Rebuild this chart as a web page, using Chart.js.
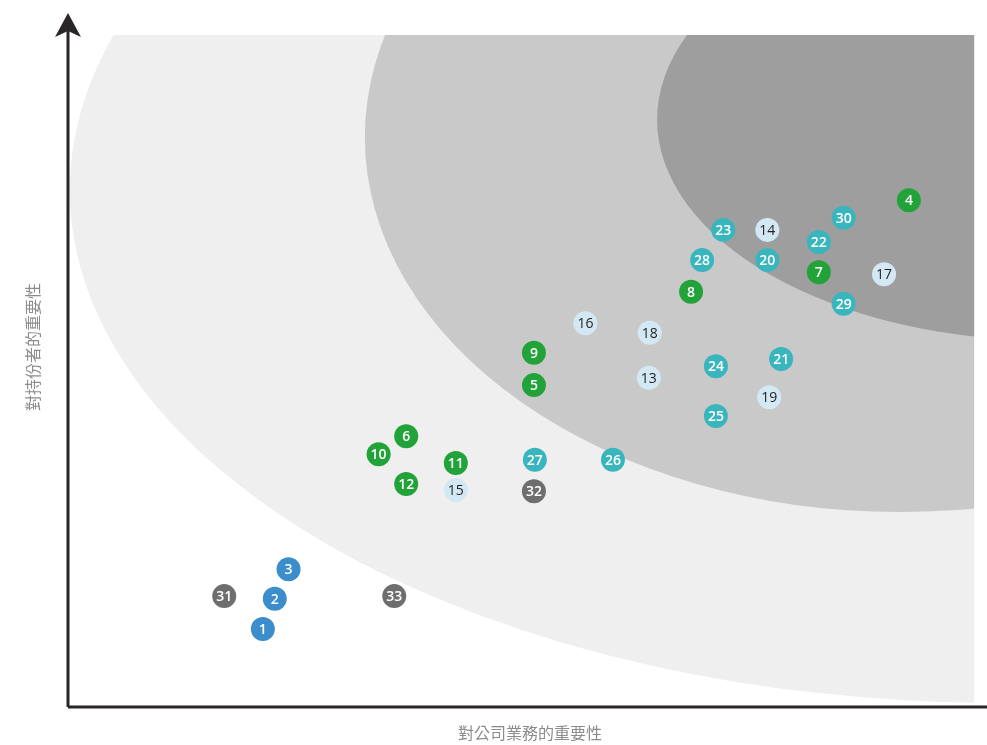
<!DOCTYPE html>
<html>
<head>
<meta charset="utf-8">
<script src="https://cdn.jsdelivr.net/npm/chart.js@4/dist/chart.umd.min.js"></script>
<style>
  html, body { margin: 0; padding: 0; background: #ffffff; overflow: hidden; }
  #c { display: block; }
</style>
</head>
<body>
<canvas id="c" width="987" height="745" style="width:987px;height:745px"></canvas>
<script>
// ---- Data (scores on 0-100 scales) ----
const xTitle = '對公司業務的重要性';
const yTitle = '對持份者的重要性';

const blueIds = [1, 2, 3];
const blueX   = [21.2, 22.5, 24.0];
const blueY   = [11.6, 16.1, 20.5];

const greenIds = [4, 5, 6, 7, 8, 9, 10, 11, 12];
const greenX   = [91.5, 50.7, 36.8, 81.7, 67.8, 50.7, 33.8, 42.2, 36.8];
const greenY   = [75.4, 47.9, 40.3, 64.7, 61.8, 52.7, 37.6, 36.3, 33.2];

const paleIds = [13, 14, 15, 16, 17, 18, 19];
const paleX   = [63.2, 76.1, 42.2, 56.3, 88.8, 63.3, 76.3];
const paleY   = [49.0, 71.0, 32.3, 57.1, 64.4, 55.7, 46.1];

const tealIds = [20, 21, 22, 23, 24, 25, 26, 27, 28, 29, 30];
const tealX   = [76.1, 77.6, 81.7, 71.3, 70.5, 70.5, 59.3, 50.8, 69.0, 84.4, 84.4];
const tealY   = [66.5, 51.8, 69.2, 71.0, 50.7, 43.3, 36.8, 36.8, 66.5, 60.0, 72.8];

const greyIds = [31, 32, 33];
const greyX   = [17.0, 50.7, 35.5];
const greyY   = [16.5, 32.1, 16.5];

// background zones (centre x, centre y, radius x, radius y in data units)
const zoneCx = [101.4, 90.5, 106.9];
const zoneCy = [76.9, 84.8, 87.4];
const zoneRx = [101.2, 58.2, 42.8];
const zoneRy = [76.3, 55.8, 32.9];
const zoneColors = ['#efefef', '#c9c9ca', '#9e9e9e'];
const zoneRightEdge = 98.6;

function pts(xs, ys, ids) { return xs.map((x, i) => ({ x: x, y: ys[i], id: ids[i] })); }

const zonesPlugin = {
  id: 'zones',
  beforeDatasetsDraw(chart) {
    const { ctx, chartArea: a, scales: { x, y } } = chart;
    ctx.save();
    ctx.beginPath();
    ctx.rect(a.left, a.top, x.getPixelForValue(zoneRightEdge) - a.left, a.bottom - a.top);
    ctx.clip();
    for (let i = 0; i < zoneCx.length; i++) {
      const cx = x.getPixelForValue(zoneCx[i]);
      const cy = y.getPixelForValue(zoneCy[i]);
      const rx = Math.abs(x.getPixelForValue(zoneCx[i] + zoneRx[i]) - cx);
      const ry = Math.abs(y.getPixelForValue(zoneCy[i] - zoneRy[i]) - cy);
      ctx.beginPath();
      ctx.ellipse(cx, cy, rx, ry, 0, 0, Math.PI * 2);
      ctx.fillStyle = zoneColors[i];
      ctx.fill();
    }
    ctx.restore();

    // axes
    ctx.save();
    ctx.strokeStyle = '#2a2526';
    ctx.fillStyle = '#2a2526';
    ctx.lineWidth = 3;
    ctx.beginPath();
    ctx.moveTo(a.left, a.bottom);
    ctx.lineTo(a.right, a.bottom);
    ctx.moveTo(a.left, a.bottom);
    ctx.lineTo(a.left, a.top - 4);
    ctx.stroke();
    ctx.beginPath();
    ctx.moveTo(a.left, a.top - 22);
    ctx.lineTo(a.left - 13, a.top + 2);
    ctx.lineTo(a.left, a.top - 4);
    ctx.lineTo(a.left + 13, a.top + 2);
    ctx.closePath();
    ctx.fill();
    ctx.restore();

    // axis titles
    ctx.save();
    ctx.fillStyle = '#8c8c8c';
    ctx.font = '16px "Noto Sans CJK TC", "Noto Sans CJK SC", sans-serif';
    ctx.textAlign = 'center';
    ctx.textBaseline = 'middle';
    ctx.fillText(xTitle, 530, a.bottom + 26);
    ctx.translate(33, 347);
    ctx.rotate(-Math.PI / 2);
    ctx.fillText(yTitle, 0, 0);
    ctx.restore();
  }
};

const labelPlugin = {
  id: 'labels',
  afterDatasetsDraw(chart) {
    const { ctx } = chart;
    ctx.save();
    ctx.textAlign = 'center';
    ctx.textBaseline = 'middle';
    chart.data.datasets.forEach((ds, di) => {
      const meta = chart.getDatasetMeta(di);
      ctx.fillStyle = ds.labelColor;
      ctx.font = ds.labelFont;
      meta.data.forEach((el, i) => {
        ctx.fillText(String(ds.data[i].id), el.x, el.y + 1);
      });
    });
    ctx.restore();
  }
};

function ds(label, xs, ys, ids, color, textColor, font) {
  return {
    label: label,
    data: pts(xs, ys, ids),
    backgroundColor: color,
    borderWidth: 0,
    pointRadius: 12,
    pointHoverRadius: 12,
    labelColor: textColor,
    labelFont: font
  };
}

const boldFont = '600 14px "Open Sans", sans-serif';
const regFont = '500 14px "Open Sans", sans-serif';

new Chart(document.getElementById('c'), {
  type: 'scatter',
  data: {
    datasets: [
      ds('blue', blueX, blueY, blueIds, '#3b8dcc', '#ffffff', boldFont),
      ds('green', greenX, greenY, greenIds, '#22a33a', '#ffffff', boldFont),
      ds('pale', paleX, paleY, paleIds, '#d2e9f4', '#231f20', regFont),
      ds('teal', tealX, tealY, tealIds, '#39b5be', '#ffffff', boldFont),
      ds('grey', greyX, greyY, greyIds, '#6e6e6e', '#ffffff', boldFont)
    ]
  },
  options: {
    responsive: false,
    maintainAspectRatio: false,
    devicePixelRatio: 1,
    animation: false,
    layout: { autoPadding: false, padding: { left: 68, right: 0, top: 35, bottom: 38 } },
    plugins: { legend: { display: false }, tooltip: { enabled: false } },
    scales: {
      x: { type: 'linear', min: 0, max: 100, display: false },
      y: { type: 'linear', min: 0, max: 100, display: false }
    }
  },
  plugins: [zonesPlugin, labelPlugin]
});
</script>
</body>
</html>
